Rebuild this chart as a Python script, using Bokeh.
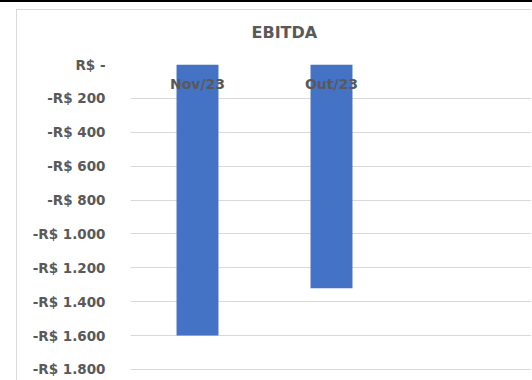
from bokeh.plotting import figure
from bokeh.models import FactorRange, Range1d, FixedTicker, Title
from bokeh.core.properties import value
from bokeh.embed import file_html
from bokeh.resources import INLINE

title_text = "EBITDA"
categories = ["Nov/23", "Out/23"]
ebitda = [-1600, -1320]
tick_values = [0, -200, -400, -600, -800, -1000, -1200, -1400, -1600, -1800]
tick_labels = ["R$ -", "-R$ 200", "-R$ 400", "-R$ 600", "-R$ 800", "-R$ 1.000",
               "-R$ 1.200", "-R$ 1.400", "-R$ 1.600", "-R$ 1.800"]

BAR = "#4472C4"
TXT = "#595959"
GRID = "#D9D9D9"
FONT = "DejaVu Sans"

p = figure(width=515, height=371, output_backend="svg", toolbar_location=None,
           x_range=FactorRange(factors=categories + [" "]),
           y_range=Range1d(-1871, 0),
           min_border_left=113, min_border_right=0, min_border_top=54, min_border_bottom=0)
p.styles = {"margin-left": "16px", "margin-top": "9px",
            "border-left": "1px solid #D9D9D9", "border-top": "1px solid #D9D9D9",
            "box-shadow": "0 9px 0 16px white, 0 7px 0 16px black"}
p.outline_line_color = None
p.background_fill_color = "white"
p.border_fill_color = "white"

p.vbar(x=categories, top=[0] * len(categories), bottom=ebitda, width=0.313,
       fill_color=BAR, line_color=None)

p.text(x=categories, y=[0] * len(categories), text=categories, y_offset=19,
       text_align="center", text_baseline="middle", text_color=TXT,
       text_font=value(FONT), text_font_style="bold", text_font_size="14px")

p.xaxis.visible = False
p.xgrid.grid_line_color = None
p.ygrid.grid_line_color = GRID
p.ygrid.grid_line_width = 1

ya = p.yaxis[0]
ya.ticker = FixedTicker(ticks=tick_values)
ya.major_label_overrides = {v: l for v, l in zip(tick_values, tick_labels)}
ya.axis_line_color = None
ya.major_tick_line_color = None
ya.minor_tick_line_color = None
ya.major_tick_out = 0
ya.major_tick_in = 0
ya.major_label_standoff = 25
ya.major_label_text_color = TXT
ya.major_label_text_font = FONT
ya.major_label_text_font_style = "bold"
ya.major_label_text_font_size = "13.5px"

# blank spacer placed between the frame and the title
p.add_layout(Title(text=" ", text_font_size="1px", standoff=20), "above")

p.title.text = title_text
p.title.align = "left"
p.title.offset = 121
p.title.standoff = 0
p.title.text_color = TXT
p.title.text_font = FONT
p.title.text_font_style = "bold"
p.title.text_font_size = "16px"

open("out.html", "w").write(file_html(p, INLINE))
